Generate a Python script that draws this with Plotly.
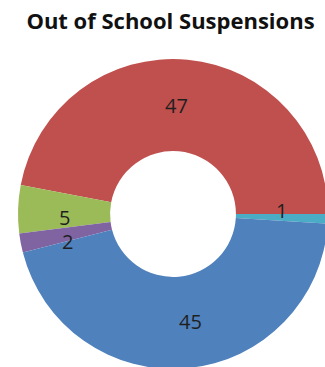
import math
import plotly.graph_objects as go

labels = ["Category 5", "Category 1", "Category 2", "Category 3", "Category 4"]
values = [1, 47, 5, 2, 45]
colors = ["#4BACC6", "#C0504D", "#9BBB59", "#8064A2", "#4F81BD"]
title = "Out of School Suspensions"

# figure is slightly larger than the window; the viewport crops it like the reference
W, H = 330, 372
CX, CY, R = 173, 214, 155
HOLE = 0.406
START_DEG = 0.0  # first slice starts at 3 o'clock, going counterclockwise

fig = go.Figure(go.Pie(
    labels=labels,
    values=values,
    sort=False,
    direction="counterclockwise",
    rotation=90,
    hole=HOLE,
    marker=dict(colors=colors, line=dict(width=0)),
    textinfo="none",
    hoverinfo="label+value",
    domain=dict(x=[(CX - R) / W, (CX + R) / W],
                y=[(H - CY - R) / H, (H - CY + R) / H]),
    showlegend=False,
))

# value labels at the middle of each ring segment, derived from the values
total = sum(values)
rmid = (R * HOLE + R) / 2
cum = 0.0
annotations = []
for v in values:
    mid = math.radians(START_DEG + (cum + v / 2) / total * 360)
    cum += v
    px = CX + rmid * math.cos(mid)
    py = CY - rmid * math.sin(mid)
    annotations.append(dict(
        x=px / W, y=(H - py) / H, xref="paper", yref="paper",
        text=str(v), showarrow=False, xanchor="center", yanchor="middle",
        font=dict(family="Open Sans", size=20, color="#1f1f1f"),
    ))

fig.update_layout(
    width=W, height=H,
    margin=dict(l=0, r=0, t=0, b=0),
    paper_bgcolor="white",
    title=dict(text="<b>" + title + "</b>", x=170.5 / W, xanchor="center",
               y=1 - 21 / H, yanchor="middle",
               font=dict(family="Open Sans", size=22, color="#111111")),
    annotations=annotations,
)
fig.write_html(
    "out.html",
    config={"displayModeBar": False},
    post_script="document.body.style.margin='0';document.body.style.overflow='hidden';",
)
